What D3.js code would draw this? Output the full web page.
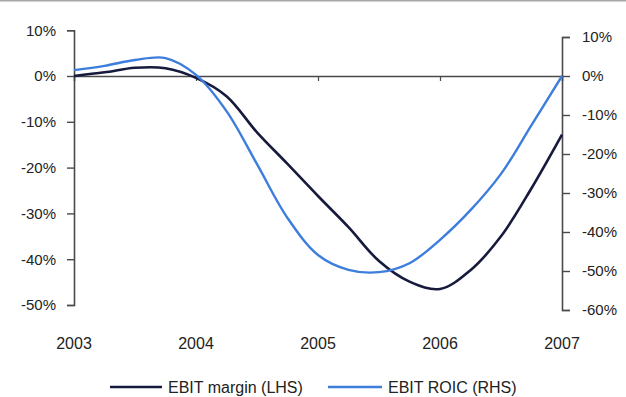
<!DOCTYPE html>
<html>
<head>
<meta charset="utf-8">
<script src="https://cdn.jsdelivr.net/npm/d3@7"></script>
<style>
  html, body { margin: 0; padding: 0; background: #fff; }
  svg { display: block; font-family: "Liberation Sans", Arial, sans-serif; }
</style>
</head>
<body>
<svg id="chart" width="626" height="397"></svg>
<script>
// Quarterly observations, 2003 to 2007
const periods = [2003, 2003.25, 2003.5, 2003.75, 2004, 2004.25, 2004.5, 2004.75,
                 2005, 2005.25, 2005.5, 2005.75, 2006, 2006.25, 2006.5, 2006.75, 2007];
// EBIT margin, % (left-hand scale)
const ebitMargin = [0, 0.8, 1.8, 1.7, -0.4, -4.4, -12.3, -19.2, -26.2, -33.0,
                    -40.4, -44.9, -46.5, -42.4, -35.0, -24.5, -12.8];
// EBIT ROIC, % (right-hand scale)
const ebitRoic = [1.5, 2.6, 4.1, 4.6, 0.3, -9.0, -22.6, -36.4, -45.9, -49.7,
                  -50.3, -48.0, -42.0, -34.4, -25.1, -12.6, 0];
const yearTicks = [2003, 2004, 2005, 2006, 2007];
const leftTicks = [10, 0, -10, -20, -30, -40, -50];
const rightTicks = [10, 0, -10, -20, -30, -40, -50, -60];
const seriesNames = ["EBIT margin (LHS)", "EBIT ROIC (RHS)"];
const seriesColors = ["#161a3c", "#3d7ddc"];

const svg = d3.select("#chart");
const x0 = 74, x1 = 562;

const x = d3.scaleLinear().domain([2003, 2007]).range([x0, x1]);
const yL = d3.scaleLinear().domain([-50, 10]).range([305, 30.2]);
const yR = d3.scaleLinear().domain([-60, 10]).range([310, 37]);

const axisColor = "#4a4a4a";
const pct = d => d + "%";

// thin frame line along the top edge
svg.append("line").attr("x1", 0).attr("x2", 626).attr("y1", 0.5).attr("y2", 0.5)
  .attr("stroke", "#a8a8a8").attr("stroke-width", 2);

// left axis
const gL = svg.append("g").attr("transform", `translate(${x0},0)`)
  .call(d3.axisLeft(yL).tickValues(leftTicks).tickFormat(pct).tickSize(7).tickPadding(11));
// right axis
const gR = svg.append("g").attr("transform", `translate(${x1},0)`)
  .call(d3.axisRight(yR).tickValues(rightTicks).tickFormat(pct).tickSize(8).tickPadding(12));

[gL, gR].forEach(g => {
  g.select(".domain").attr("stroke", axisColor).attr("stroke-width", 1.6);
  g.selectAll(".tick line").attr("stroke", axisColor).attr("stroke-width", 1.4);
  g.selectAll(".tick text").attr("fill", "#222").style("font-size", "15px")
    .style("font-family", "'Liberation Sans', Arial, sans-serif");
});

// zero line with year ticks
const zeroY = yL(0);
const gX = svg.append("g").attr("transform", `translate(0,${zeroY})`)
  .call(d3.axisBottom(x).tickValues(yearTicks.slice(1, -1)).tickSize(5).tickFormat(""));
gX.select(".domain").attr("stroke", axisColor).attr("stroke-width", 1.6);
gX.selectAll(".tick line").attr("stroke", axisColor).attr("stroke-width", 1.2);

// year labels under the plot
svg.append("g").selectAll("text").data(yearTicks).join("text")
  .attr("x", d => x(d)).attr("y", 349)
  .attr("text-anchor", "middle").attr("fill", "#222")
  .style("font-size", "16px").text(d => d);

// series lines
const lineL = d3.line().x((d, i) => x(periods[i])).y(d => yL(d)).curve(d3.curveCatmullRom.alpha(0.5));
const lineR = d3.line().x((d, i) => x(periods[i])).y(d => yR(d)).curve(d3.curveCatmullRom.alpha(0.5));

svg.append("path").datum(ebitMargin).attr("d", lineL)
  .attr("fill", "none").attr("stroke", seriesColors[0]).attr("stroke-width", 2.6);
svg.append("path").datum(ebitRoic).attr("d", lineR)
  .attr("fill", "none").attr("stroke", seriesColors[1]).attr("stroke-width", 2.4);

// legend
const legend = [
  { name: seriesNames[0], color: seriesColors[0], lx: 110, tx: 168 },
  { name: seriesNames[1], color: seriesColors[1], lx: 328, tx: 388 }
];
const lg = svg.append("g");
lg.selectAll("line").data(legend).join("line")
  .attr("x1", d => d.lx).attr("x2", d => d.tx - 6)
  .attr("y1", 387).attr("y2", 387)
  .attr("stroke", d => d.color).attr("stroke-width", 2.6);
lg.selectAll("text").data(legend).join("text")
  .attr("x", d => d.tx).attr("y", 393)
  .attr("fill", "#222").style("font-size", "16px").text(d => d.name);
</script>
</body>
</html>
